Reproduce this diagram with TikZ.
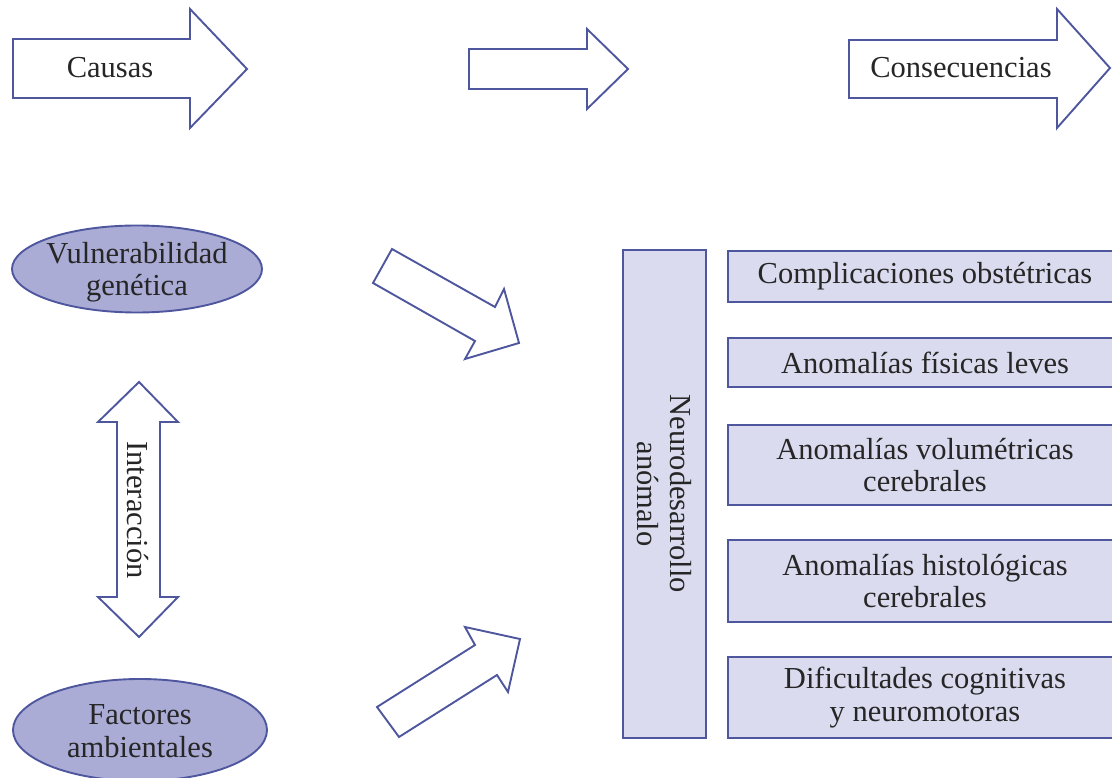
\documentclass[tikz,border=0pt]{standalone}
\usepackage{fontspec}
\setmainfont{Liberation Serif}
\usetikzlibrary{shapes.geometric}
\definecolor{edge}{RGB}{78,86,158}
\definecolor{ovalfill}{RGB}{170,172,214}
\definecolor{boxfill}{RGB}{218,219,238}
\begin{document}
\begin{tikzpicture}[x=1pt,y=-1pt,
  outline/.style={draw=edge,line width=1.9pt,line join=miter},
  blockarrow/.style={outline,fill=white},
  label/.style={font=\fontsize{30.5}{32.5}\selectfont,text=black!85,align=center,inner sep=0pt},
  oval/.style={ellipse,outline,fill=ovalfill,inner sep=0pt},
  effect/.style={rectangle,outline,fill=boxfill,inner sep=0pt}]
\useasboundingbox (0,0) rectangle (1112,778);
\clip (0,0) rectangle (1112,778);

% header arrows
\draw[blockarrow] (13,39) -- (190,39) -- (190,9) -- (247,69) -- (190,128) -- (190,98) -- (13,98) -- cycle;
\node[label] (causas) at (110,68) {Causas};
\draw[blockarrow] (469,49) -- (587,49) -- (587,29) -- (628,69) -- (587,109) -- (587,89) -- (469,89) -- cycle;
\draw[blockarrow] (849,40) -- (1057,40) -- (1057,9) -- (1110,68) -- (1057,128) -- (1057,98) -- (849,98) -- cycle;
\node[label] (consec) at (961,68) {Consecuencias};

% causes
\node[oval,minimum width=250,minimum height=87] (gen) at (137,269) {};
\node[label] at ([yshift=-3]gen.center) {Vulnerabilidad\\genética};
\node[oval,minimum width=254,minimum height=102] (amb) at (140,730) {};
\node[label] at ([yshift=-1]amb.center) {Factores\\ambientales};

% interaction double arrow
\draw[blockarrow] (139,382) -- (178,422) -- (160,422) -- (160,597) -- (178,597) -- (139,637)
  -- (98,597) -- (117,597) -- (117,422) -- (98,422) -- cycle;
\node[label,rotate=-90] (inter) at (138,510) {Interacción};

% arrows into the central box
\draw[blockarrow] (392,249) -- (495,307) -- (504,289) -- (519,343) -- (465,359) -- (475,341) -- (373,283) -- cycle;
\draw[blockarrow] (377,707) -- (475,645) -- (465,627) -- (520,639) -- (508,692) -- (497,675) -- (399,737) -- cycle;

% central box
\node[effect,minimum width=83,minimum height=488] (neuro) at (664.5,494) {};
\node[label,rotate=-90] at (neuro.center) {Neurodesarrollo\\anómalo};

% consequences
\node[effect,minimum width=394,minimum height=51] (c1) at (925,276.5) {};
\node[label] at (c1.center) {Complicaciones obstétricas};
\node[effect,minimum width=394,minimum height=49] (c2) at (925,362.5) {};
\node[label] at (c2.center) {Anomalías físicas leves};
\node[effect,minimum width=394,minimum height=80] (c3) at (925,465) {};
\node[label] at (c3.center) {Anomalías volumétricas\\cerebrales};
\node[effect,minimum width=394,minimum height=82] (c4) at (925,581) {};
\node[label] at (c4.center) {Anomalías histológicas\\cerebrales};
\node[effect,minimum width=394,minimum height=81] (c5) at (925,697.5) {};
\node[label] at (c5.center) {Dificultades cognitivas\\y neuromotoras};
\end{tikzpicture}
\end{document}
